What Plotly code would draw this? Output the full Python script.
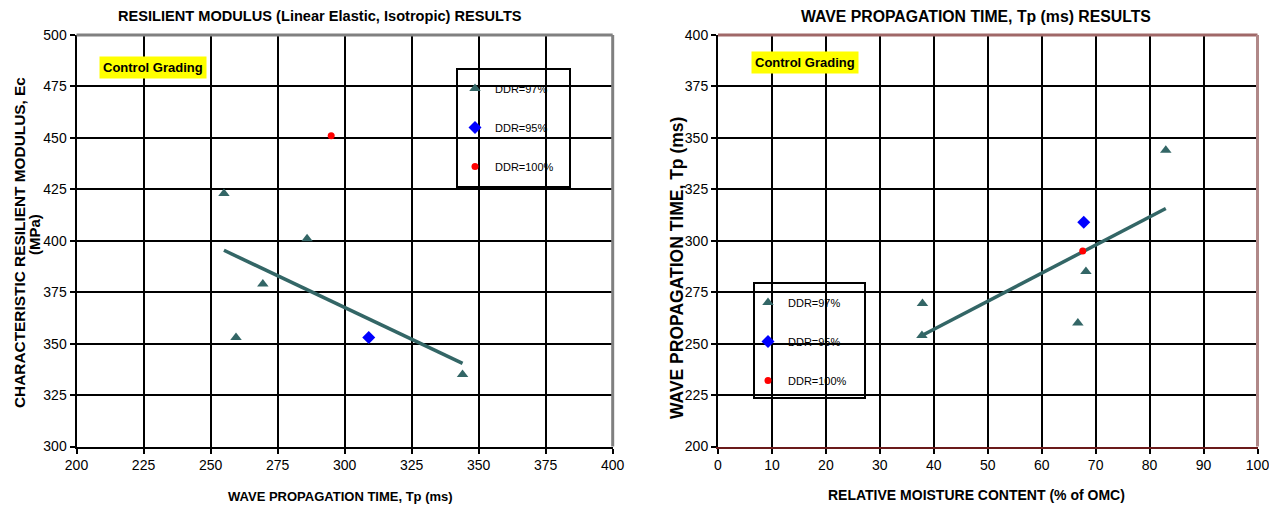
import numpy as np
import plotly.graph_objects as go

# ---------------- data ----------------
# Left chart: Resilient modulus vs wave propagation time
left_tp_97 = [255, 259.5, 269.5, 286, 344]
left_ec_97 = [423, 353, 379, 401, 335]
left_tp_95 = [309]
left_ec_95 = [353]
left_tp_100 = [295]
left_ec_100 = [451]

# Right chart: Wave propagation time vs relative moisture content
right_rmc_97 = [37.9, 37.8, 66.7, 68.2, 83]
right_tp_97 = [269.5, 254, 260, 285, 344]
right_rmc_95 = [67.8]
right_tp_95 = [309]
right_rmc_100 = [67.6]
right_tp_100 = [295]

series_names = ["DDR=97%", "DDR=95%", "DDR=100%"]

left_xticks = [200, 225, 250, 275, 300, 325, 350, 375, 400]
left_yticks = [300, 325, 350, 375, 400, 425, 450, 475, 500]
right_xticks = [0, 10, 20, 30, 40, 50, 60, 70, 80, 90, 100]
right_yticks = [200, 225, 250, 275, 300, 325, 350, 375, 400]

# ---------------- styles ----------------
TEAL = "#336666"
FONT = "Liberation Sans, Arial, sans-serif"
OFF = 8                      # page body margin
W, H = 1277 - OFF, 508 - OFF


def px(v):
    return (v - OFF) / W


def py(v):
    return 1 - (v - OFF) / H


fig = go.Figure()


# linear trend lines (least squares through DDR=97% points)
def trend(xs, ys):
    xs = np.array(xs, dtype=float)
    ys = np.array(ys, dtype=float)
    k, b = np.polyfit(xs, ys, 1)
    xx = np.array([xs.min(), xs.max()])
    return xx, k * xx + b


lx, ly = trend(left_tp_97, left_ec_97)
rx, ry = trend(right_rmc_97, right_tp_97)

fig.add_trace(go.Scatter(x=lx, y=ly, mode="lines", line=dict(color=TEAL, width=3.5),
                         showlegend=False, xaxis="x", yaxis="y", hoverinfo="skip"))
fig.add_trace(go.Scatter(x=rx, y=ry, mode="lines", line=dict(color=TEAL, width=3.5),
                         showlegend=False, xaxis="x2", yaxis="y2", hoverinfo="skip"))

mk97 = dict(symbol="triangle-up", size=10, color=TEAL)
mk95 = dict(symbol="diamond", size=10, color="#0000FF")
mk100 = dict(symbol="circle", size=7, color="#FF0000")

fig.add_trace(go.Scatter(x=left_tp_97, y=left_ec_97, mode="markers", marker=mk97,
                         name=series_names[0], legend="legend", legendgroup="l97",
                         xaxis="x", yaxis="y"))
fig.add_trace(go.Scatter(x=left_tp_95, y=left_ec_95, mode="markers", marker=mk95,
                         name=series_names[1], legend="legend", legendgroup="l95",
                         xaxis="x", yaxis="y"))
fig.add_trace(go.Scatter(x=left_tp_100, y=left_ec_100, mode="markers", marker=mk100,
                         name=series_names[2], legend="legend", legendgroup="l100",
                         xaxis="x", yaxis="y"))

fig.add_trace(go.Scatter(x=right_rmc_97, y=right_tp_97, mode="markers", marker=mk97,
                         name=series_names[0], legend="legend2", legendgroup="r97",
                         xaxis="x2", yaxis="y2"))
fig.add_trace(go.Scatter(x=right_rmc_95, y=right_tp_95, mode="markers", marker=mk95,
                         name=series_names[1], legend="legend2", legendgroup="r95",
                         xaxis="x2", yaxis="y2"))
fig.add_trace(go.Scatter(x=right_rmc_100, y=right_tp_100, mode="markers", marker=mk100,
                         name=series_names[2], legend="legend2", legendgroup="r100",
                         xaxis="x2", yaxis="y2"))

axis_common = dict(
    showgrid=True, gridcolor="black", gridwidth=1.5,
    ticks="outside", ticklen=5, tickwidth=1.5, tickcolor="black",
    tickfont=dict(family=FONT, size=14, color="black"),
    showline=True, linewidth=2, zeroline=False, automargin=False,
)

fig.update_layout(
    template="none",
    width=W, height=H,
    margin=dict(l=0, r=0, t=0, b=0, autoexpand=False),
    paper_bgcolor="white", plot_bgcolor="white",
    xaxis=dict(domain=[px(76.5), px(612.7)], range=[200, 400], tickvals=left_xticks,
               anchor="y", linecolor="black", **axis_common),
    yaxis=dict(domain=[py(446.5), py(35)], range=[300, 500], tickvals=left_yticks,
               anchor="x", linecolor="black", **axis_common),
    xaxis2=dict(domain=[px(718), px(1257.5)], range=[0, 100], tickvals=right_xticks,
                anchor="y2", linecolor="#6b1a1a", **axis_common),
    yaxis2=dict(domain=[py(446.5), py(35)], range=[200, 400], tickvals=right_yticks,
                anchor="x2", linecolor="black", **axis_common),
    legend=dict(x=px(455), y=py(74), xanchor="left", yanchor="top",
                bgcolor="rgba(0,0,0,0)", borderwidth=0, tracegroupgap=20,
                font=dict(family=FONT, size=11, color="black")),
    legend2=dict(x=px(748), y=py(288), xanchor="left", yanchor="top",
                 bgcolor="rgba(0,0,0,0)", borderwidth=0, tracegroupgap=20,
                 font=dict(family=FONT, size=11, color="black")),
    showlegend=True,
)

shapes = [
    # left plot top/right borders
    dict(type="line", xref="x domain", yref="y domain", x0=0, x1=1, y0=1, y1=1,
         line=dict(color="#808080", width=3)),
    dict(type="line", xref="x domain", yref="y domain", x0=1, x1=1, y0=0, y1=1,
         line=dict(color="#808080", width=3)),
    # right plot top/right borders
    dict(type="line", xref="x2 domain", yref="y2 domain", x0=0, x1=1, y0=1, y1=1,
         line=dict(color="#a06868", width=3)),
    dict(type="line", xref="x2 domain", yref="y2 domain", x0=1, x1=1, y0=0, y1=1,
         line=dict(color="#b08888", width=3)),
    # legend boxes
    dict(type="rect", xref="paper", yref="paper", x0=px(457), x1=px(570), y0=py(187), y1=py(69),
         line=dict(color="black", width=2), fillcolor="white", layer="below"),
    dict(type="rect", xref="paper", yref="paper", x0=px(754), x1=px(865), y0=py(398), y1=py(283),
         line=dict(color="black", width=2), fillcolor="white", layer="below"),
]
fig.update_layout(shapes=shapes)

ann = []


def add_text(text, x, y, size, angle=0, **kw):
    ann.append(dict(text=text, x=px(x), y=py(y), xref="paper", yref="paper", showarrow=False,
                    font=dict(family=FONT, size=size, color="black"), textangle=angle,
                    xanchor="center", yanchor="middle", **kw))


add_text("<b>RESILIENT MODULUS (Linear Elastic, Isotropic) RESULTS</b>", 320, 16, 14.6)
add_text("<b>WAVE PROPAGATION TIME, Tp (ms) RESULTS</b>", 976, 16, 15.8)
add_text("<b>WAVE PROPAGATION TIME, Tp (ms)</b>", 340, 496, 13)
add_text("<b>RELATIVE MOISTURE CONTENT (% of OMC)</b>", 976, 495, 14)
add_text("<b>CHARACTERISTIC RESILIENT MODULUS, Ec</b>", 19, 243, 15.4, angle=-90)
add_text("<b>(MPa)</b>", 35, 235, 15, angle=-90)
add_text("<b>WAVE PROPAGATION TIME, Tp (ms)</b>", 677, 268, 17.5, angle=-90)
add_text("<b>Control Grading</b>", 153, 67, 13, bgcolor="#FFFF00", borderpad=3)
add_text("<b>Control Grading</b>", 805, 63, 13, bgcolor="#FFFF00", borderpad=3)
fig.update_layout(annotations=ann)

fig.write_html("out.html")
